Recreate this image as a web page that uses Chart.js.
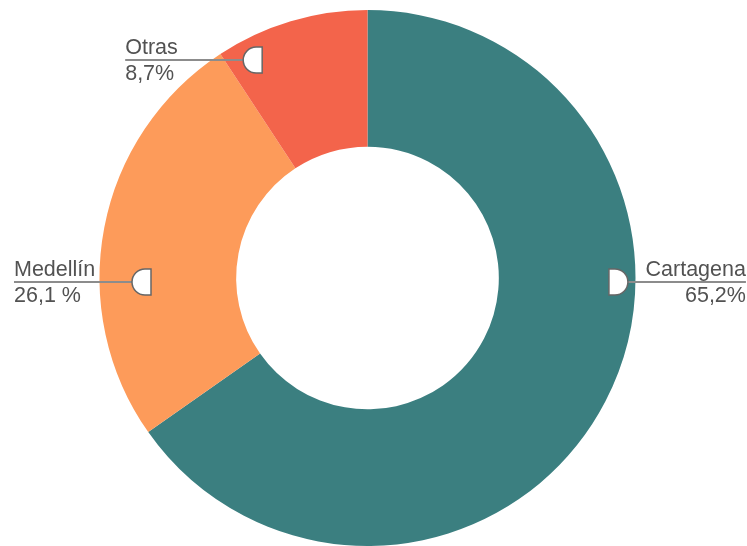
<!DOCTYPE html>
<html lang="es">
<head>
<meta charset="utf-8">
<title>Distribución por ciudad</title>
<script src="https://cdn.jsdelivr.net/npm/chart.js@4.4.1/dist/chart.umd.min.js"></script>
<style>
  html, body { margin: 0; padding: 0; background: #fff; }
  #wrap { width: 747px; height: 546px; position: relative; }
</style>
</head>
<body>
<div id="wrap"><canvas id="donut"></canvas></div>
<script>
// Datos del gráfico (tamaño de las porciones medido en el dibujo; textos tal cual)
const cities = ['Cartagena', 'Medellín', 'Otras'];
const shares = [65.25, 25.5, 9.25];
const shareLabels = ['65,2%', '26,1 %', '8,7%'];
const sliceColors = ['#3b7f80', '#fd9b5a', '#f3644b'];

// Posición de las etiquetas (lado, desplazamiento vertical y radio del marcador, relativos al radio)
const labelSide = [1, -1, -1];
const labelDy = [0.015, 0.015, -0.813];
const labelRadius = [0.901, 0.808, 0.903];

const calloutPlugin = {
  id: 'callouts',
  afterDatasetsDraw(chart) {
    const ctx = chart.ctx;
    const arcs = chart.getDatasetMeta(0).data;
    ctx.save();
    arcs.forEach((arc, i) => {
      const { x: cx, y: cy, outerRadius: R } = arc.getProps(['x', 'y', 'outerRadius'], true);
      const side = labelSide[i];
      const dy = labelDy[i] * R;
      const rr = labelRadius[i] * R;
      const y = cy + dy;
      const flatX = cx + side * Math.sqrt(rr * rr - dy * dy);
      const h = 13;
      const straight = 6;
      const tipX = flatX + side * (straight + h);
      const endX = tipX + side * 118;

      // linea guia
      ctx.strokeStyle = '#8c8c8c';
      ctx.lineWidth = 2;
      ctx.beginPath();
      ctx.moveTo(tipX, y);
      ctx.lineTo(endX, y);
      ctx.stroke();

      // marcador en forma de D
      const arcX = flatX + side * straight;
      ctx.beginPath();
      ctx.moveTo(flatX, y - h);
      ctx.lineTo(arcX, y - h);
      ctx.arc(arcX, y, h, -Math.PI / 2, Math.PI / 2, side < 0);
      ctx.lineTo(flatX, y + h);
      ctx.closePath();
      ctx.fillStyle = '#ffffff';
      ctx.fill();
      ctx.strokeStyle = '#666666';
      ctx.lineWidth = 1.5;
      ctx.stroke();

      // textos
      ctx.fillStyle = '#525252';
      ctx.font = '21.5px "Liberation Sans", Arial, sans-serif';
      ctx.textAlign = side > 0 ? 'right' : 'left';
      ctx.textBaseline = 'alphabetic';
      ctx.fillText(cities[i], endX, y - 6);
      ctx.fillText(shareLabels[i], endX, y + 20);
    });
    ctx.restore();
  }
};

new Chart(document.getElementById('donut'), {
  type: 'doughnut',
  data: {
    labels: cities,
    datasets: [{
      data: shares,
      backgroundColor: sliceColors,
      borderWidth: 0,
      hoverOffset: 0
    }]
  },
  options: {
    responsive: true,
    maintainAspectRatio: false,
    animation: false,
    cutout: '49%',
    layout: { padding: { top: 10, right: 12, bottom: 0, left: 0 } },
    plugins: {
      legend: { display: false },
      tooltip: { enabled: false }
    }
  },
  plugins: [calloutPlugin]
});
</script>
</body>
</html>
